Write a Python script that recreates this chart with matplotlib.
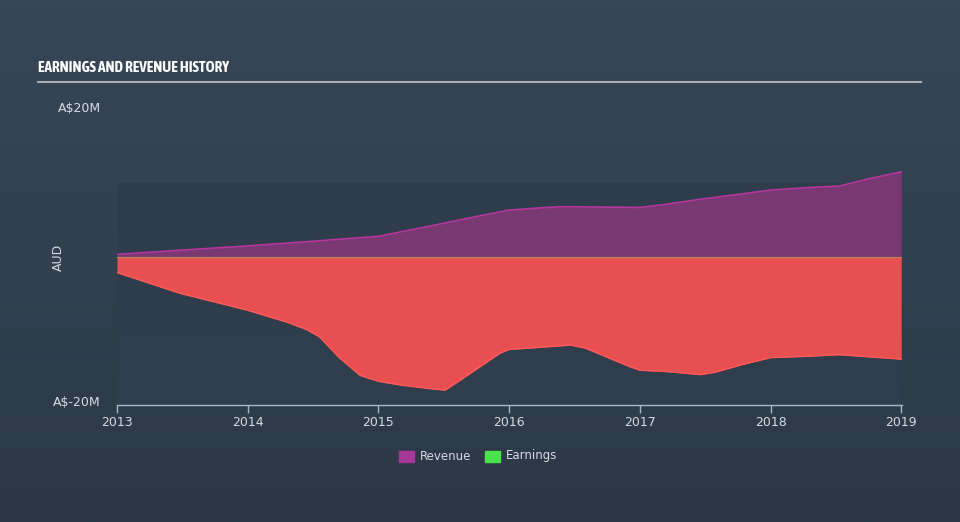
import numpy as np
import matplotlib
matplotlib.use("Agg")
import matplotlib.pyplot as plt
from matplotlib import font_manager
from matplotlib.patches import Rectangle

# data (A$ millions, fractional years)
rev_t = [2013.0, 2014.0, 2014.55, 2015.0, 2015.17, 2015.4, 2015.7, 2015.93, 2016.0,
         2016.38, 2016.69, 2017.0, 2017.15, 2017.46, 2017.77, 2018.0, 2018.3, 2018.53,
         2018.76, 2019.0]
revenue = [0.36, 1.5, 2.2, 2.8, 3.4, 4.2, 5.3, 6.1, 6.35,
           6.8, 6.75, 6.7, 7.0, 7.8, 8.5, 9.05, 9.4, 9.6,
           10.6, 11.5]

earn_t = [2013.0, 2013.48, 2014.0, 2014.3, 2014.45, 2014.55, 2014.7, 2014.86, 2015.0,
          2015.17, 2015.4, 2015.51, 2015.63, 2015.78, 2015.93, 2016.0, 2016.24, 2016.47,
          2016.58, 2016.69, 2016.92, 2017.0, 2017.22, 2017.46, 2017.57, 2017.77, 2018.0,
          2018.3, 2018.53, 2018.76, 2019.0]
earnings = [-2.1, -4.9, -7.2, -8.8, -9.8, -10.8, -13.6, -16.0, -16.8,
            -17.3, -17.8, -18.0, -16.6, -14.8, -13.0, -12.5, -12.2, -11.9,
            -12.3, -13.1, -14.8, -15.3, -15.5, -15.9, -15.6, -14.6, -13.6,
            -13.4, -13.2, -13.5, -13.8]

year_ticks = [2013, 2014, 2015, 2016, 2017, 2018, 2019]


def condensed_family():
    # prefer a bold condensed face, else any condensed/narrow one
    found = [f for f in font_manager.fontManager.ttflist
             if "narrow" in f.name.lower() or "condensed" in f.name.lower()]
    for f in found:
        if f.weight in ("bold", 700) or str(f.weight) in ("700", "bold"):
            return f.name
    return found[0].name if found else None


fig = plt.figure(figsize=(9.6, 5.22), dpi=100)

# background gradient
bg = fig.add_axes([0, 0, 1, 1], zorder=-10)
grad = np.linspace(0, 1, 256).reshape(-1, 1)
top = np.array([0x37, 0x47, 0x58]) / 255
bot = np.array([0x2c, 0x38, 0x45]) / 255
img = top + (bot - top) * grad[..., None]
bg.imshow(img, aspect="auto", extent=[0, 1, 0, 1])
bg.set_axis_off()

ax = fig.add_axes([117 / 960, (522 - 405) / 522, 785 / 960, 296 / 522])
ax.patch.set_alpha(0)
ax.set_xlim(2013, 2019.006)
ax.set_ylim(-20, 20)

ax.axhspan(-10, 10, color="#2f3c4b", zorder=0, lw=0)
ax.axhspan(-20, -10, color="#303d4c", zorder=0, lw=0)

ax.fill_between(rev_t, 0, revenue, color="#7a3873", lw=0, zorder=2)
ax.plot(rev_t, revenue, color="#b5369c", lw=1.2, zorder=3)
ax.fill_between(earn_t, 0, earnings, color="#e84f50", lw=0, zorder=2)
ax.plot(earn_t, earnings, color="#ff5a5a", lw=1.0, zorder=3)
ax.axhline(0, color="#b08a5a", lw=0.8, zorder=4)

for side in ["top", "right", "left"]:
    ax.spines[side].set_visible(False)
ax.spines["bottom"].set_color("#a9b8c6")
ax.spines["bottom"].set_linewidth(1.0)
ax.set_yticks([])
ax.set_xticks(year_ticks)
ax.set_xticklabels([str(y) for y in year_ticks])
ax.tick_params(axis="x", colors="#a9b8c6", labelcolor="#d5dbe1", length=6,
               width=1.0, labelsize=9, pad=2)

# title and underline
cond = condensed_family()
title_kw = dict(color="white", fontweight="bold", va="center", ha="left")
if cond:
    fig.text(38 / 960, 1 - 68 / 522, "EARNINGS AND REVENUE HISTORY",
             fontsize=11, family=cond, **title_kw)
else:
    fig.text(38 / 960, 1 - 68 / 522, "EARNINGS AND REVENUE HISTORY",
             fontsize=9, **title_kw)
fig.add_artist(plt.Line2D([38 / 960, 921 / 960], [1 - 82 / 522, 1 - 82 / 522],
                          color="#a6adb5", lw=1.5))

# y labels
fig.text(101 / 960, 1 - 109 / 522, "A$20M", color="#d5dbe1", fontsize=9,
         ha="right", va="center")
fig.text(101 / 960, 1 - 403 / 522, "A$-20M", color="#d5dbe1", fontsize=9,
         ha="right", va="center")
fig.text(58 / 960, 1 - 257 / 522, "AUD", color="#d5dbe1", fontsize=9,
         rotation=90, ha="center", va="center")

# legend
fig.add_artist(Rectangle((399 / 960, 1 - 462 / 522), 15 / 960, 11 / 522,
                         transform=fig.transFigure, color="#a8379a"))
fig.text(420 / 960, 1 - 456 / 522, "Revenue", color="#d5dbe1", fontsize=8.5,
         va="center", ha="left")
fig.add_artist(Rectangle((485 / 960, 1 - 462 / 522), 15 / 960, 11 / 522,
                         transform=fig.transFigure, color="#4ce24e"))
fig.text(506 / 960, 1 - 456 / 522, "Earnings", color="#d5dbe1", fontsize=8.5,
         va="center", ha="left")

fig.savefig("out.png", dpi=100)
